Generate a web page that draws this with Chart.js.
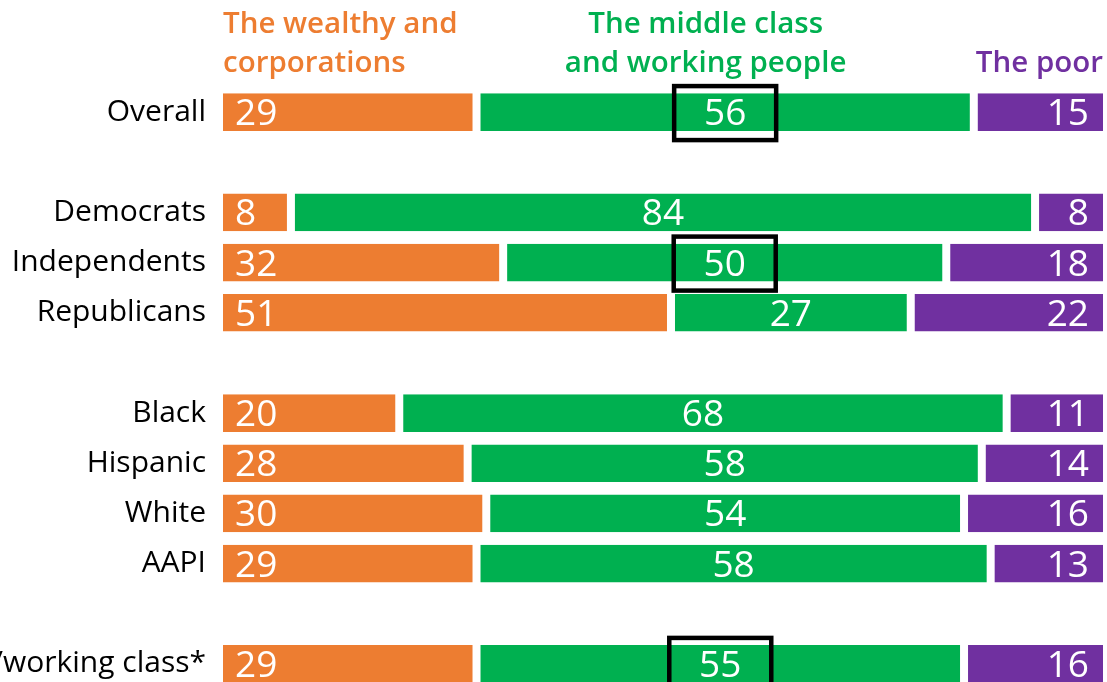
<!DOCTYPE html>
<html>
<head>
<meta charset="utf-8">
<script src="https://cdn.jsdelivr.net/npm/chart.js@4/dist/chart.umd.min.js"></script>
<style>
  html, body { margin: 0; padding: 0; background: #fff; overflow: hidden; }
</style>
</head>
<body>
<canvas id="shareChart" width="1107" height="720"></canvas>
<script>
// Rows (blank strings are spacer rows between groups)
const categories = ['Overall', '', 'Democrats', 'Independents', 'Republicans', '', 'Black', 'Hispanic', 'White', 'AAPI', '', 'Middle/working class*'];

// Share of benefit, percent
const wealthyValues = [29, null, 8.1, 32, 50.9, null, 20.3, 28, 30.1, 29, null, 29];
const middleValues  = [56, null, 83.8, 49.9, 27, null, 68.4, 57.9, 53.8, 57.9, null, 54.9];
const poorValues    = [15, null, 8.1, 18.1, 22.1, null, 11.3, 14.1, 16.1, 13.1, null, 16.1];

const seriesNames = ['The wealthy and corporations', 'The middle class and working people', 'The poor'];
const headerLines = [['The wealthy and', 'corporations'], ['The middle class', 'and working people'], ['The poor']];
const boxedRows = ['Overall', 'Independents', 'Middle/working class*'];

const ORANGE = '#ED7D31';
const GREEN = '#00B050';
const PURPLE = '#7030A0';
const FONT = '"Open Sans", Lato, sans-serif';

function makeDataset(label, data, color) {
    return {
        label: label,
        data: data,
        backgroundColor: color,
        borderColor: '#ffffff',
        borderWidth: { left: 4, right: 4, top: 0, bottom: 0 },
        borderSkipped: false,
        barPercentage: 0.75,
        categoryPercentage: 1
    };
}

// Value labels, highlight boxes and the coloured column headers
const annotatePlugin = {
    id: 'annotate',
    afterDatasetsDraw(chart) {
        const ctx = chart.ctx;
        ctx.save();
        ctx.font = '37px ' + FONT;
        ctx.fillStyle = '#ffffff';
        ctx.textBaseline = 'alphabetic';
        chart.data.datasets.forEach((ds, di) => {
            const meta = chart.getDatasetMeta(di);
            meta.data.forEach((bar, i) => {
                const v = ds.data[i];
                if (v === null) return;
                const text = String(Math.round(v));
                const y = bar.y + 13;
                if (di === 0) {
                    ctx.textAlign = 'left';
                    ctx.fillText(text, bar.base + 16, y);
                } else if (di === 1) {
                    ctx.textAlign = 'center';
                    ctx.fillText(text, (bar.base + bar.x) / 2, y);
                } else {
                    ctx.textAlign = 'right';
                    ctx.fillText(text, bar.x - 18, y);
                }
            });
        });

        // black boxes around selected middle-class values
        const midMeta = chart.getDatasetMeta(1);
        ctx.strokeStyle = '#000000';
        ctx.lineWidth = 4.5;
        categories.forEach((cat, i) => {
            if (!boxedRows.includes(cat)) return;
            const bar = midMeta.data[i];
            const cx = (bar.base + bar.x) / 2;
            ctx.strokeRect(cx - 51, bar.y - 26, 102, 54);
        });

        // headers
        const area = chart.chartArea;
        const xScale = chart.scales.x;
        ctx.font = '600 29.5px ' + FONT;
        ctx.textBaseline = 'alphabetic';
        const baselines = [33, 72];
        ctx.fillStyle = ORANGE;
        ctx.textAlign = 'left';
        headerLines[0].forEach((line, k) => ctx.fillText(line, area.left + 4, baselines[k]));
        ctx.fillStyle = GREEN;
        ctx.textAlign = 'center';
        headerLines[1].forEach((line, k) => ctx.fillText(line, xScale.getPixelForValue(54.8), baselines[k]));
        ctx.fillStyle = PURPLE;
        ctx.textAlign = 'right';
        ctx.fillText(headerLines[2][0], area.right - 4, 72);
        ctx.restore();
    }
};

const ctx = document.getElementById('shareChart').getContext('2d');
new Chart(ctx, {
    type: 'bar',
    data: {
        labels: categories,
        datasets: [
            makeDataset(seriesNames[0], wealthyValues, ORANGE),
            makeDataset(seriesNames[1], middleValues, GREEN),
            makeDataset(seriesNames[2], poorValues, PURPLE)
        ]
    },
    options: {
        indexAxis: 'y',
        responsive: false,
        animation: false,
        layout: { padding: { top: 87, bottom: 0, left: 0, right: 0 } },
        plugins: {
            legend: { display: false },
            tooltip: { enabled: false }
        },
        scales: {
            x: {
                stacked: true,
                display: false,
                min: 0,
                max: 100
            },
            y: {
                stacked: true,
                grid: { display: false, drawTicks: false },
                border: { display: false },
                afterFit(scale) { scale.width = 219; },
                ticks: {
                    autoSkip: false,
                    padding: 13,
                    color: '#000000',
                    font: { family: FONT, size: 30, weight: 500 }
                }
            }
        }
    },
    plugins: [annotatePlugin]
});
</script>
</body>
</html>
